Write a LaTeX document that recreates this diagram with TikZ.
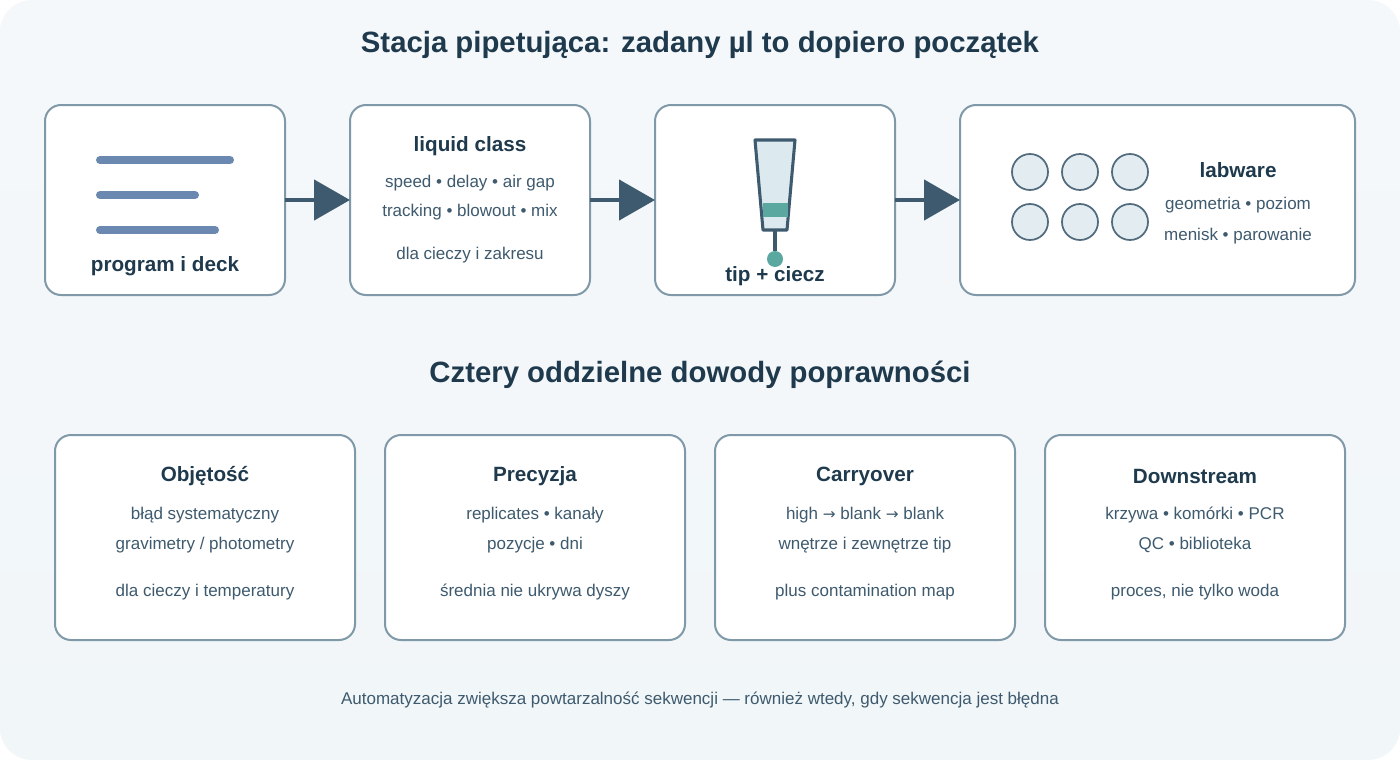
\documentclass[tikz,border=0pt]{standalone}
\usepackage{fontspec}
\setmainfont{Liberation Sans}
\newfontfamily\arrfont{DejaVu Sans}
\usetikzlibrary{arrows.meta}
\definecolor{bord}{HTML}{8099A8}
\definecolor{dark}{HTML}{1F3A4D}
\definecolor{txt}{HTML}{3E5A6E}
\definecolor{arr}{HTML}{3D5A6E}
\definecolor{teal}{HTML}{5AA8A0}
\definecolor{lin}{HTML}{6A88B0}
\definecolor{bgA}{HTML}{F5F8FB}
\definecolor{bgB}{HTML}{F1F6F8}
\definecolor{wellf}{HTML}{E3EDF1}
\definecolor{tipf}{HTML}{DCEAF0}
\begin{document}
\begin{tikzpicture}[x=0.75pt,y=-0.75pt,
 box/.style={draw=bord,line width=1.5,fill=white,rounded corners=12},
 ttl/.style={font=\bfseries\fontsize{15.5}{18}\selectfont,text=dark},
 sm/.style={font=\fontsize{12.75}{15}\selectfont,text=txt},
 con/.style={draw=arr,line width=3.5,-{Triangle[length=27pt,width=30pt]}},
 well/.style={circle,draw=txt!90,fill=wellf,line width=1.3,minimum size=27pt,inner sep=0}]
\useasboundingbox (0,0) rectangle (1400,760);
\shade[top color=bgA,bottom color=bgB,rounded corners=24] (0,0) rectangle (1400,760);
\node[font=\bfseries\fontsize{22}{26}\selectfont,text=dark] (t1) at (700,45) {Stacja pipetująca: zadany µl to dopiero początek};
\node[font=\bfseries\fontsize{22}{26}\selectfont,text=dark] (t2) at (700,375) {Cztery oddzielne dowody poprawności};
\draw[box] (45,105) rectangle (285,295);
\coordinate (b1r) at (285,200);
\draw[box] (350,105) rectangle (590,295);
\coordinate (b2l) at (350,200); \coordinate (b2r) at (590,200);
\draw[box] (655,105) rectangle (895,295);
\coordinate (b3l) at (655,200); \coordinate (b3r) at (895,200);
\draw[box] (960,105) rectangle (1355,295);
\coordinate (b4l) at (960,200);
\draw[con] (b1r) -- (b2l);
\draw[con] (b2r) -- (b3l);
\draw[con] (b3r) -- (b4l);
\draw[lin,line width=6,line cap=round] (100,160) -- (230,160) (100,195) -- (195,195) (100,230) -- (215,230);
\node[ttl] (p1) at (165,266) {program i deck};
\node[ttl] (l2) at (470,146) {liquid class};
\node[sm] (l2a) at (470,183) {speed • delay • air gap};
\node[sm] (l2b) at (470,212) {tracking • blowout • mix};
\node[sm] (l2c) at (470,255) {dla cieczy i zakresu};
\draw[fill=tipf,draw=txt,line width=2.3,line join=round] (755,140) -- (795,140) -- (787,230) -- (763,230) -- cycle;
\fill[teal] (762.5,203) rectangle (787.5,217);
\draw[txt,line width=2.5] (775,230) -- (775,251);
\fill[teal] (775,259) circle (8);
\node[ttl] (l3) at (775,276) {tip + ciecz};
\foreach \x in {1030,1080,1130}{\foreach \y in {172,222}{\node[well] at (\x,\y) {};}}
\node[ttl] (l4) at (1238,170) {labware};
\node[sm] (l4a) at (1238,205) {geometria • poziom};
\node[sm] (l4b) at (1238,236) {menisk • parowanie};
\foreach \x/\h/\a/\b/\c in {55/Objętość/błąd systematyczny/gravimetry \slash\ photometry/dla cieczy i temperatury,
 385/Precyzja/replicates • kanały/pozycje • dni/średnia nie ukrywa dyszy,
 715/Carryover/high {\arrfont\fontsize{11.5}{14}\selectfont →} blank {\arrfont\fontsize{11.5}{14}\selectfont →} blank/wnętrze i zewnętrze tip/plus contamination map,
 1045/Downstream/krzywa • komórki • PCR/QC • biblioteka/{proces, nie tylko woda}}{
 \draw[box] (\x,435) rectangle ++(300,205);
 \node[ttl] at (\x+150,476) {\h};
 \node[sm] at (\x+150,515) {\a};
 \node[sm] at (\x+150,545) {\b};
 \node[sm] at (\x+150,592) {\c};
}
\node[sm] (foot) at (700,700) {Automatyzacja zwiększa powtarzalność sekwencji — również wtedy, gdy sekwencja jest błędna};
\end{tikzpicture}
\end{document}
